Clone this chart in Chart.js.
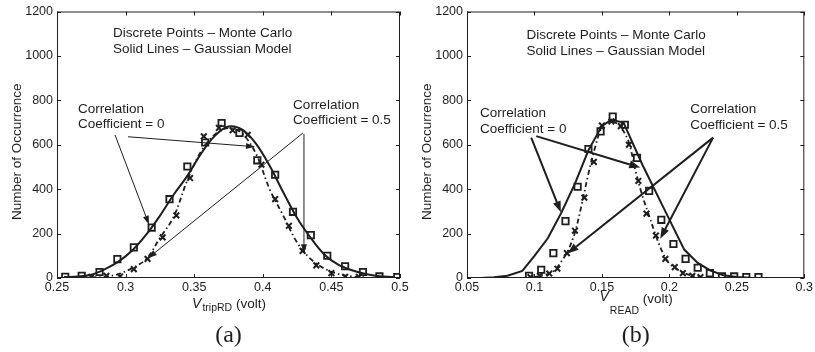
<!DOCTYPE html>
<html>
<head>
<meta charset="utf-8">
<script src="https://cdn.jsdelivr.net/npm/chart.js@4.4.1/dist/chart.umd.min.js"></script>
<style>
  body { margin: 0; background: #fff; }
  #wrap { position: relative; width: 815px; height: 352px; }
  canvas { position: absolute; left: 0; top: 0; }
</style>
</head>
<body>
<div id="wrap">
  <canvas id="chart-a" width="815" height="352"></canvas>
  <canvas id="chart-b" width="815" height="352"></canvas>
</div>
<script>
// (a) V_tripRD – Monte Carlo points
const tripSquareX = [0.256, 0.268, 0.281, 0.294, 0.306, 0.319, 0.332, 0.345, 0.358, 0.370, 0.383, 0.396, 0.409, 0.422, 0.435, 0.447, 0.460, 0.473, 0.485, 0.498];
const tripSquareY = [5, 10, 27, 85, 138, 227, 355, 502, 610, 698, 653, 530, 465, 298, 193, 100, 53, 27, 7, 4];
const tripCrossX = [0.275, 0.286, 0.296, 0.306, 0.316, 0.327, 0.337, 0.347, 0.357, 0.368, 0.378, 0.389, 0.399, 0.409, 0.419, 0.429, 0.439, 0.450, 0.460, 0.470];
const tripCrossY = [5, 10, 7, 40, 86, 183, 282, 450, 638, 676, 665, 645, 510, 355, 235, 122, 57, 22, 5, 5];
// (a) Gaussian model curves
const tripSolidX = [0.255, 0.265, 0.275, 0.285, 0.295, 0.305, 0.315, 0.325, 0.335, 0.345, 0.355, 0.365, 0.375, 0.385, 0.395, 0.405, 0.415, 0.425, 0.435, 0.445, 0.455, 0.465, 0.475, 0.485, 0.495];
const tripSolidY = [4, 7, 15, 40, 75, 125, 195, 280, 375, 460, 560, 640, 682, 668, 605, 505, 385, 270, 180, 105, 60, 35, 18, 8, 4];
const tripDashX = [0.275, 0.285, 0.295, 0.305, 0.315, 0.325, 0.335, 0.345, 0.355, 0.365, 0.375, 0.385, 0.395, 0.405, 0.415, 0.425, 0.435, 0.445, 0.455, 0.465, 0.475];
const tripDashY = [3, 6, 18, 45, 85, 180, 275, 440, 570, 645, 675, 650, 560, 400, 280, 160, 85, 42, 18, 7, 3];

// (b) V_READ – Monte Carlo points
const readSquareX = [0.096, 0.105, 0.114, 0.123, 0.132, 0.140, 0.149, 0.158, 0.167, 0.176, 0.185, 0.194, 0.203, 0.212, 0.221, 0.230, 0.239, 0.248, 0.257, 0.266];
const readSquareY = [10, 37, 112, 256, 411, 581, 660, 727, 690, 541, 392, 262, 153, 86, 46, 22, 7, 7, 4, 4];
const readCrossX = [0.097, 0.104, 0.111, 0.117, 0.124, 0.130, 0.137, 0.144, 0.150, 0.157, 0.164, 0.170, 0.177, 0.183, 0.190, 0.197, 0.204, 0.210, 0.217, 0.223];
const readCrossY = [4, 10, 20, 42, 112, 213, 362, 523, 686, 705, 684, 600, 437, 290, 191, 86, 49, 22, 10, 4];
// (b) Gaussian model curves
const readSolidX = [0.060, 0.070, 0.080, 0.091, 0.100, 0.110, 0.120, 0.130, 0.140, 0.150, 0.157, 0.166, 0.180, 0.197, 0.211, 0.221, 0.230, 0.240, 0.250, 0.260];
const readSolidY = [0, 3, 10, 32, 100, 180, 295, 425, 575, 685, 712, 700, 510, 300, 128, 68, 35, 12, 4, 1];
const readDashX = [0.090, 0.100, 0.110, 0.115, 0.120, 0.125, 0.130, 0.135, 0.140, 0.145, 0.150, 0.155, 0.160, 0.165, 0.170, 0.175, 0.180, 0.185, 0.190, 0.195, 0.200, 0.210, 0.220, 0.225];
const readDashY = [0, 5, 18, 35, 75, 125, 205, 330, 470, 590, 680, 705, 700, 670, 610, 480, 370, 280, 190, 115, 65, 25, 6, 2];

// axis ranges / ticks
const tripTicksX = [0.25, 0.5, 0.05];
const readTicksX = [0.05, 0.3, 0.05];
const countTicksY = [0, 1200, 200];

const SANS = '"Liberation Sans", Arial, sans-serif';
const SERIF = '"Liberation Serif", "Times New Roman", serif';
const INK = '#1e1e1e';

// annotations in data units
const tripNotes = {
  texts: [
    ['Discrete Points \u2013 Monte Carlo', 0.2908, 1102],
    ['Solid Lines \u2013 Gaussian Model', 0.2908, 1031],
    ['Correlation', 0.2653, 760],
    ['Coefficient = 0', 0.2653, 693],
    ['Correlation', 0.4221, 778],
    ['Coefficient = 0.5', 0.4221, 711]
  ],
  arrows: [
    [0.2923, 644, 0.3171, 240],
    [0.3018, 636, 0.3943, 591],
    [0.4293, 653, 0.3163, 89],
    [0.4300, 649, 0.4300, 111]
  ],
  arrowWidth: 1,
  sub: 'tripRD', subDy: 3, voltDy: 0, vDy: 0,
  tag: '(a)'
};
const readNotes = {
  texts: [
    ['Discrete Points \u2013 Monte Carlo', 0.0941, 1091],
    ['Solid Lines \u2013 Gaussian Model', 0.0941, 1019],
    ['Correlation', 0.0596, 742],
    ['Coefficient = 0', 0.0596, 671],
    ['Correlation', 0.2154, 760],
    ['Coefficient = 0.5', 0.2154, 688]
  ],
  arrows: [
    [0.0976, 632, 0.1196, 296],
    [0.1013, 639, 0.1784, 497],
    [0.2324, 632, 0.1245, 110],
    [0.2324, 632, 0.1932, 177]
  ],
  arrowWidth: 2,
  sub: 'READ', subDy: 6, voltDy: -5, vDy: -7,
  tag: '(b)'
};

function pts(xs, ys) {
  return xs.map((x, i) => ({ x: x, y: ys[i] }));
}

function drawArrow(ctx, x1, y1, x2, y2, w) {
  const ang = Math.atan2(y2 - y1, x2 - x1);
  const len = w > 1 ? 11 : 9;
  const half = w > 1 ? 4 : 3;
  const bx = x2 - len * Math.cos(ang);
  const by = y2 - len * Math.sin(ang);
  ctx.lineWidth = w;
  ctx.beginPath();
  ctx.moveTo(x1, y1);
  ctx.lineTo(bx, by);
  ctx.stroke();
  ctx.beginPath();
  ctx.moveTo(x2, y2);
  ctx.lineTo(bx - half * Math.sin(ang), by + half * Math.cos(ang));
  ctx.lineTo(bx + half * Math.sin(ang), by - half * Math.cos(ang));
  ctx.closePath();
  ctx.fill();
}

const decorPlugin = {
  id: 'decor',
  afterDraw(chart, args, opts) {
    const notes = opts.notes;
    const ctx = chart.ctx;
    const area = chart.chartArea;
    const xs = chart.scales.x;
    const ys = chart.scales.y;
    ctx.save();
    ctx.strokeStyle = INK;
    ctx.fillStyle = INK;

    // box and inward ticks (matlab style)
    ctx.lineWidth = 1;
    ctx.strokeRect(area.left + 0.5, area.top + 0.5, area.right - area.left - 1, area.bottom - area.top - 1);
    ctx.beginPath();
    xs.ticks.forEach(t => {
      const px = Math.round(xs.getPixelForValue(t.value)) + 0.5;
      ctx.moveTo(px, area.bottom);
      ctx.lineTo(px, area.bottom - 4);
      ctx.moveTo(px, area.top);
      ctx.lineTo(px, area.top + 4);
    });
    ys.ticks.forEach(t => {
      const py = Math.round(ys.getPixelForValue(t.value)) + 0.5;
      ctx.moveTo(area.left, py);
      ctx.lineTo(area.left + 4, py);
      ctx.moveTo(area.right, py);
      ctx.lineTo(area.right - 4, py);
    });
    ctx.stroke();

    // text notes
    ctx.font = '13.5px ' + SANS;
    ctx.textAlign = 'left';
    ctx.textBaseline = 'middle';
    notes.texts.forEach(n => {
      ctx.fillText(n[0], xs.getPixelForValue(n[1]), ys.getPixelForValue(n[2]));
    });

    // arrows
    notes.arrows.forEach(a => {
      drawArrow(ctx, xs.getPixelForValue(a[0]), ys.getPixelForValue(a[1]),
        xs.getPixelForValue(a[2]), ys.getPixelForValue(a[3]), notes.arrowWidth);
    });

    // y title
    const cy = (area.top + area.bottom) / 2 + 7;
    ctx.save();
    ctx.translate(area.left - 40, cy);
    ctx.rotate(-Math.PI / 2);
    ctx.textAlign = 'center';
    ctx.textBaseline = 'middle';
    ctx.font = '13.5px ' + SANS;
    ctx.fillText('Number of Occurrence', 0, 0);
    ctx.restore();

    // x title with subscript
    const cx = (area.left + area.right) / 2;
    const base = area.bottom + 30;
    ctx.textBaseline = 'alphabetic';
    ctx.textAlign = 'left';
    const fV = 'italic 14px ' + SANS;
    const fSub = '10.5px ' + SANS;
    const fVolt = '13.5px ' + SANS;
    ctx.font = fV; const wV = ctx.measureText('V').width;
    ctx.font = fSub; const wS = ctx.measureText(notes.sub).width;
    ctx.font = fVolt; const wT = ctx.measureText(' (volt)').width;
    let x0 = cx - (wV + wS + wT) / 2;
    ctx.font = fV; ctx.fillText('V', x0, base + notes.vDy);
    x0 += wV + 1;
    ctx.font = fSub; ctx.fillText(notes.sub, x0, base + notes.subDy);
    x0 += wS;
    ctx.font = fVolt; ctx.fillText(' (volt)', x0, base + notes.voltDy);

    // panel tag
    ctx.textAlign = 'center';
    ctx.font = '24px ' + SERIF;
    ctx.fillText(notes.tag, cx, area.bottom + 64);
    ctx.restore();
  }
};

function makeChart(id, cfg) {
  const tickFont = { family: SANS, size: 12.5 };
  return new Chart(document.getElementById(id), {
    type: 'scatter',
    data: {
      datasets: [
        {
          label: 'MC rho=0',
          data: pts(cfg.sqX, cfg.sqY),
          showLine: false,
          pointStyle: 'rect',
          pointRadius: 4.5,
          borderColor: INK,
          backgroundColor: 'rgba(0,0,0,0)',
          borderWidth: 1.8
        },
        {
          label: 'MC rho=0.5',
          data: pts(cfg.crX, cfg.crY),
          showLine: false,
          pointStyle: 'crossRot',
          pointRadius: 4,
          borderColor: INK,
          borderWidth: 2
        },
        {
          label: 'Gauss rho=0',
          data: pts(cfg.soX, cfg.soY),
          showLine: true,
          pointRadius: 0,
          borderColor: INK,
          borderWidth: 2,
          tension: cfg.tension
        },
        {
          label: 'Gauss rho=0.5',
          data: pts(cfg.daX, cfg.daY),
          showLine: true,
          pointRadius: 0,
          borderColor: INK,
          borderWidth: 1.8,
          borderDash: [5, 3, 1.5, 3],
          tension: 0.35
        }
      ]
    },
    options: {
      responsive: false,
      animation: false,
      events: [],
      layout: { padding: cfg.padding },
      plugins: {
        legend: { display: false },
        tooltip: { enabled: false },
        decor: { notes: cfg.notes }
      },
      scales: {
        x: {
          type: 'linear',
          min: cfg.ticksX[0],
          max: cfg.ticksX[1],
          grid: { display: false, drawTicks: false },
          border: { display: false },
          ticks: {
            stepSize: cfg.ticksX[2],
            autoSkip: false,
            maxRotation: 0,
            padding: 2,
            color: INK,
            font: tickFont,
            callback: v => String(+v.toFixed(2))
          },
          afterFit: s => { s.height = 74; }
        },
        y: {
          min: countTicksY[0],
          max: countTicksY[1],
          grid: { display: false, drawTicks: false },
          border: { display: false },
          ticks: {
            stepSize: countTicksY[2],
            autoSkip: false,
            padding: 4,
            color: INK,
            font: tickFont,
            callback: v => String(v)
          },
          afterFit: s => { s.width = cfg.yWidth; }
        }
      }
    },
    plugins: [decorPlugin]
  });
}

makeChart('chart-a', {
  sqX: tripSquareX, sqY: tripSquareY,
  crX: tripCrossX, crY: tripCrossY,
  soX: tripSolidX, soY: tripSolidY,
  daX: tripDashX, daY: tripDashY,
  ticksX: tripTicksX,
  tension: 0.35,
  yWidth: 57,
  padding: { left: 0, right: 415, top: 8, bottom: 0 },
  notes: tripNotes
});

makeChart('chart-b', {
  sqX: readSquareX, sqY: readSquareY,
  crX: readCrossX, crY: readCrossY,
  soX: readSolidX, soY: readSolidY,
  daX: readDashX, daY: readDashY,
  ticksX: readTicksX,
  tension: 0,
  yWidth: 59,
  padding: { left: 408, right: 8, top: 9, bottom: 0 },
  notes: readNotes
});
</script>
</body>
</html>
